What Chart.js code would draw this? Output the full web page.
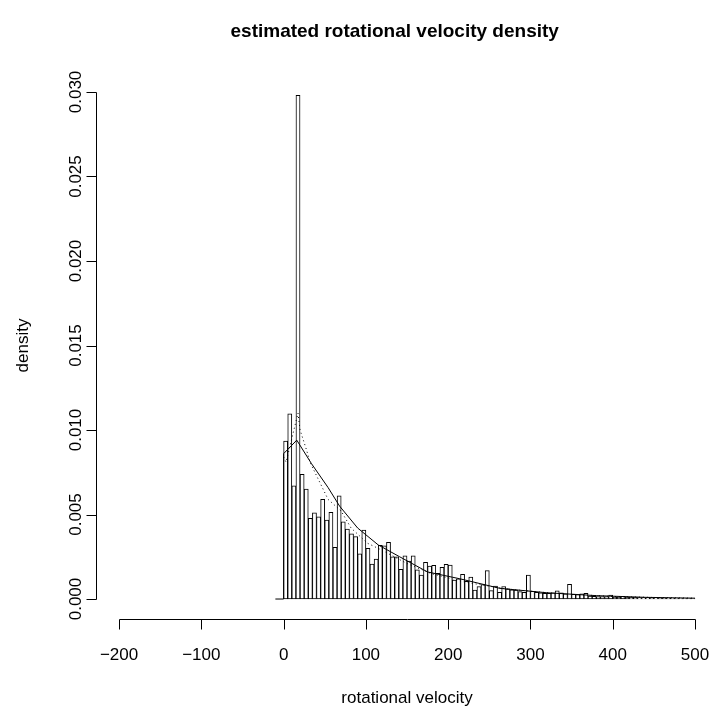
<!DOCTYPE html>
<html>
<head>
<meta charset="utf-8">
<script src="https://cdn.jsdelivr.net/npm/chart.js@4.4.1/dist/chart.umd.min.js"></script>
<style>
  body { margin: 0; background: #fff; }
  #box { width: 713px; height: 713px; }
</style>
</head>
<body>
<div id="box"><canvas id="vel"></canvas></div>
<script>
// histogram: bins of width 5 starting at 0
const binWidth = 5;
const binStart = 0;
const densities = [
  0.00935, 0.01095, 0.0067, 0.0298, 0.00738, 0.0065, 0.00477, 0.0051, 0.00487, 0.0059,
  0.00467, 0.00513, 0.00306, 0.0061, 0.00457, 0.00414, 0.00385, 0.00369, 0.00268, 0.00408,
  0.0030, 0.00207, 0.00237, 0.00318, 0.00314, 0.00335, 0.0025, 0.0025, 0.00176, 0.00256,
  0.00225, 0.00256, 0.00172, 0.00142, 0.00217, 0.00195, 0.00199, 0.00152, 0.00187, 0.00205,
  0.00201, 0.00112, 0.0012, 0.00146, 0.00105, 0.0013, 0.00053, 0.00073, 0.00085, 0.00168,
  0.0005, 0.00077, 0.0004, 0.00074, 0.0006, 0.00055, 0.00053, 0.00044, 0.0004, 0.00142,
  0.00045, 0.0004, 0.00037, 0.00034, 0.00034, 0.00037, 0.00049, 0.00037, 0.0003, 0.00087,
  0.00028, 0.00026, 0.0003, 0.00034, 0.00018, 0.00016, 0.00014, 0.00014, 0.00014, 0.00024,
  0.00012, 0.00012, 0.00016, 0.00012, 0.0001, 0.0001, 0.00008, 0.00008, 0.00008, 0.00006,
  0.00008, 0.00006, 0.00006, 0.00004, 0.00004, 0.00004, 0.00002, 0.00002, 0.00002, 0.00002
];

// solid estimate curve
const solidX = [-10, 0, 0, 16, 34, 54, 68, 90, 115, 141, 175, 214, 263, 320, 380, 440, 500];
const solidY = [0, 0, 0.0086, 0.0094, 0.0080, 0.0066, 0.0055, 0.0042, 0.0032, 0.0025, 0.0016, 0.0012, 0.00063, 0.00037, 0.0002, 0.0001, 0.00005];

// dotted estimate curve
const dotX = [0, 3, 11, 17.5, 20, 28, 32, 44, 54, 70, 82, 102, 119, 150, 180, 220, 270, 330, 400, 460, 500];
const dotY = [0.0084, 0.0081, 0.0097, 0.011, 0.01, 0.0088, 0.0081, 0.0069, 0.0059, 0.0052, 0.0042, 0.0033, 0.0029, 0.0021, 0.0015, 0.001, 0.0006, 0.00033, 0.00015, 0.00008, 0.00005];

const xTicks = [-200, -100, 0, 100, 200, 300, 400, 500];
const xTickLabels = ['\u2212200', '\u2212100', '0', '100', '200', '300', '400', '500'];
const yTicks = [0, 0.005, 0.01, 0.015, 0.02, 0.025, 0.03];
const yTickLabels = ['0.000', '0.005', '0.010', '0.015', '0.020', '0.025', '0.030'];

const mainTitle = 'estimated rotational velocity density';
const xTitle = 'rotational velocity';
const yTitle = 'density';

const fontFam = '"Liberation Sans", Arial, Helvetica, sans-serif';

const bars = densities.map((d, i) => ({ x: binStart + binWidth * (i + 0.5), y: d }));
const solid = solidX.map((v, i) => ({ x: v, y: solidY[i] }));
const dotted = dotX.map((v, i) => ({ x: v, y: dotY[i] }));

// R style axes: line only across the tick range, outward ticks, labels
const rAxes = {
  id: 'rAxes',
  afterDraw(chart) {
    const { ctx, chartArea } = chart;
    const x = chart.scales.x, y = chart.scales.y;
    ctx.save();
    ctx.strokeStyle = '#000';
    ctx.fillStyle = '#000';
    ctx.lineWidth = 1;

    const ax = Math.round(chartArea.bottom) + 0.5;
    ctx.beginPath();
    ctx.moveTo(Math.round(x.getPixelForValue(xTicks[0])) + 0.5, ax);
    ctx.lineTo(Math.round(x.getPixelForValue(xTicks[xTicks.length - 1])) + 0.5, ax);
    xTicks.forEach(v => {
      const px = Math.round(x.getPixelForValue(v)) + 0.5;
      ctx.moveTo(px, ax);
      ctx.lineTo(px, ax + 10);
    });
    const ay = Math.round(chartArea.left) + 0.5;
    ctx.moveTo(ay, Math.round(y.getPixelForValue(yTicks[0])) + 0.5);
    ctx.lineTo(ay, Math.round(y.getPixelForValue(yTicks[yTicks.length - 1])) + 0.5);
    yTicks.forEach(v => {
      const py = Math.round(y.getPixelForValue(v)) + 0.5;
      ctx.moveTo(ay, py);
      ctx.lineTo(ay - 10, py);
    });
    ctx.stroke();

    ctx.font = '17px ' + fontFam;
    ctx.textAlign = 'center';
    ctx.textBaseline = 'alphabetic';
    xTicks.forEach((v, i) => {
      ctx.fillText(xTickLabels[i], x.getPixelForValue(v), 660);
    });
    yTicks.forEach((v, i) => {
      ctx.save();
      ctx.translate(81, y.getPixelForValue(v));
      ctx.rotate(-Math.PI / 2);
      ctx.fillText(yTickLabels[i], 0, 0);
      ctx.restore();
    });

    const midX = (chartArea.left + x.getPixelForValue(528)) / 2;
    const midY = (chartArea.top + chartArea.bottom) / 2;
    ctx.fillText(xTitle, midX, 703);
    ctx.save();
    ctx.translate(28, midY);
    ctx.rotate(-Math.PI / 2);
    ctx.fillText(yTitle, 0, 0);
    ctx.restore();

    ctx.font = 'bold 19px ' + fontFam;
    ctx.fillText(mainTitle, x.getPixelForValue(135), 37);
    ctx.restore();
  }
};

new Chart(document.getElementById('vel'), {
  type: 'bar',
  data: {
    datasets: [
      {
        type: 'line',
        data: solid,
        borderColor: '#000',
        borderWidth: 1,
        pointRadius: 0,
        tension: 0,
        order: 0
      },
      {
        type: 'line',
        data: dotted,
        borderColor: '#000',
        borderWidth: 1,
        borderDash: [1, 3],
        pointRadius: 0,
        tension: 0,
        order: 0
      },
      {
        type: 'bar',
        data: bars,
        backgroundColor: '#fff',
        borderColor: '#000',
        borderWidth: 1,
        borderSkipped: false,
        barPercentage: 1,
        categoryPercentage: 1,
        order: 1
      }
    ]
  },
  options: {
    responsive: true,
    maintainAspectRatio: false,
    animation: false,
    layout: { padding: { left: 96, right: 4, top: 71.7, bottom: 93.7 } },
    scales: {
      x: { type: 'linear', min: -228, max: 517, offset: false, display: false },
      y: { type: 'linear', min: -0.0012, max: 0.0312, display: false }
    },
    plugins: {
      legend: { display: false },
      tooltip: { enabled: false },
      title: { display: false }
    }
  },
  plugins: [rAxes]
});
</script>
</body>
</html>
